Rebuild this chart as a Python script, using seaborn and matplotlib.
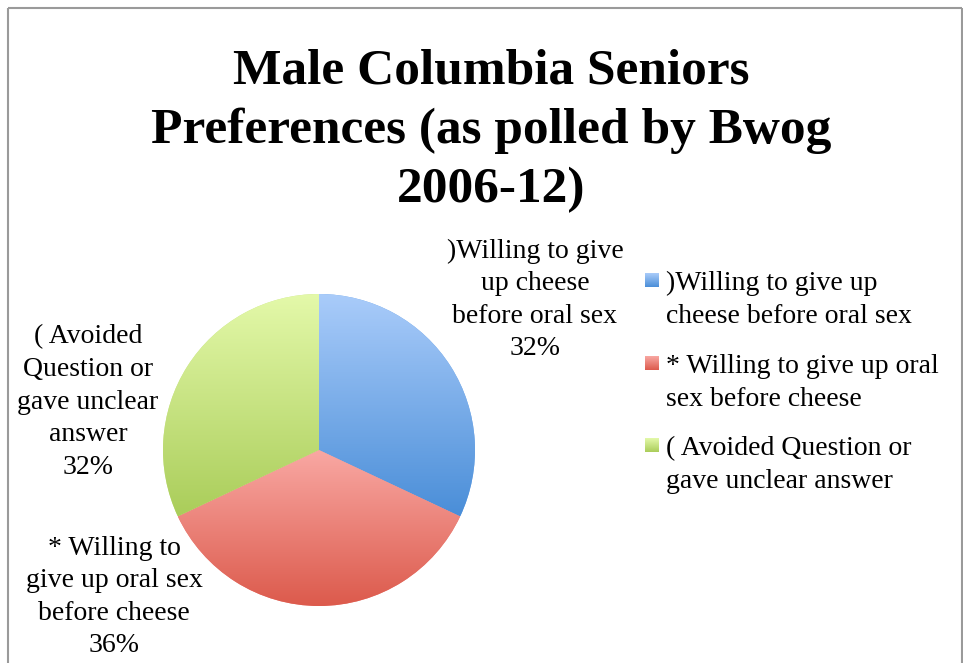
import numpy as np
import matplotlib
matplotlib.use("Agg")
import matplotlib.pyplot as plt
import seaborn as sns
from matplotlib.colors import LinearSegmentedColormap

sns.set_theme(style="white")
plt.rcParams['font.family'] = ['Liberation Serif', 'DejaVu Serif']

# ---- data ----
categories = [")Willing to give up cheese before oral sex",
              "* Willing to give up oral sex before cheese",
              "( Avoided Question or gave unclear answer"]
values = [32, 36, 32]
slice_labels = [")Willing to give\nup cheese\nbefore oral sex\n32%",
                "* Willing to\ngive up oral sex\nbefore cheese\n36%",
                "( Avoided\nQuestion or\ngave unclear\nanswer\n32%"]
legend_labels = [")Willing to give up\ncheese before oral sex",
                 "* Willing to give up oral\nsex before cheese",
                 "( Avoided Question or\ngave unclear answer"]
title = "Male Columbia Seniors\nPreferences (as polled by Bwog\n2006-12)"
grad_top = ["#AACCFA", "#F9A8A3", "#E4F9AA"]
grad_bot = ["#4A8ED8", "#DC5A4C", "#AACD5A"]
mid_col = ["#6FA6E8", "#EC7F77", "#C9E48A"]

W, H = 963, 663
fig = plt.figure(figsize=(W / 100, H / 100), dpi=100)
ax = fig.add_axes([0, 0, 1, 1])


def Y(py):
    return H - py


cx, cy, r = 319, Y(450), 156
wedges, _ = ax.pie(values, startangle=90, counterclock=False,
                   center=(cx, cy), radius=r, frame=True,
                   colors=mid_col, wedgeprops=dict(linewidth=0))


def gradient_fill(patch, top, bot, x0, x1, y0, y1, z=3):
    cmap = LinearSegmentedColormap.from_list("g", [bot, top])
    grad = np.linspace(0, 1, 256).reshape(-1, 1)
    im = ax.imshow(grad, cmap=cmap, extent=(x0, x1, y0, y1), origin="lower",
                   aspect="auto", zorder=z, interpolation="bilinear")
    if patch is not None:
        im.set_clip_path(patch)
    return im


# vertical gradient fill per wedge
for w, t, b in zip(wedges, grad_top, grad_bot):
    verts = w.get_path().transformed(w.get_patch_transform()).vertices
    gradient_fill(w, t, b, verts[:, 0].min(), verts[:, 0].max(),
                  verts[:, 1].min(), verts[:, 1].max())

# title
ax.text(W / 2 + 10, Y(131), title, ha="center", va="center",
        fontsize=37, fontweight="bold", linespacing=1.36, color="black")

# slice labels
fs = 20
pos = [(535, 300), (114, 597), (88, 402)]
for (px, py), lab in zip(pos, slice_labels):
    ax.text(px, Y(py), lab, ha="center", va="center", fontsize=fs,
            linespacing=1.4, color="black")

# legend
leg_y = [300, 383, 465]
for ly, lab, t, b in zip(leg_y, legend_labels, grad_top, grad_bot):
    top_px = ly - 27
    gradient_fill(None, t, b, 645, 659, Y(top_px + 14), Y(top_px), z=4)
    ax.text(666, Y(ly), lab, ha="left", va="center", fontsize=fs,
            linespacing=1.4, color="black")

# frame
ax.plot([8, 962], [Y(8), Y(8)], color="#9a9a9a", lw=1.5, solid_capstyle="butt")
ax.plot([8, 8], [Y(8), 0], color="#9a9a9a", lw=1.5, solid_capstyle="butt")
ax.plot([962, 962], [Y(8), 0], color="#9a9a9a", lw=1.5, solid_capstyle="butt")

ax.set_xlim(0, W)
ax.set_ylim(0, H)
ax.set_aspect("auto")
ax.axis("off")

fig.savefig("out.png", dpi=100)
